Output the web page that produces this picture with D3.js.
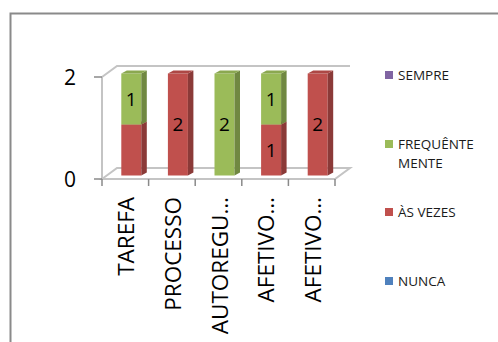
<!DOCTYPE html>
<html>
<head>
<meta charset="utf-8">
<script src="https://cdn.jsdelivr.net/npm/d3@7"></script>
<style>
  html, body { margin: 0; padding: 0; background: #fff; }
  svg { display: block; }
  text { font-family: "Open Sans", "DejaVu Sans", sans-serif; }
</style>
</head>
<body>
<svg id="chart" width="498" height="342"></svg>
<script>
// Categories and stacked series (bottom to top)
const categories = ["TAREFA", "PROCESSO", "AUTOREGU…", "AFETIVO…", "AFETIVO…"];
const seriesNames = ["NUNCA", "ÀS VEZES", "FREQUÊNTE MENTE", "SEMPRE"];
const nunca      = [0, 0, 0, 0, 0];
const asVezes    = [1, 2, 0, 1, 2];
const frequente  = [1, 0, 2, 1, 0];
const sempre     = [0, 0, 0, 0, 0];
// data labels shown per series (the first ÀS VEZES label is not displayed)
const asVezesLabelShown   = [false, true, true, true, true];
const frequenteLabelShown = [true, true, true, true, true];
const yTicks = [0, 2];

const colors = {
  "NUNCA": "#4F81BD",
  "ÀS VEZES": "#C0504D",
  "FREQUÊNTE MENTE": "#9BBB59",
  "SEMPRE": "#8064A2"
};
const labelShown = {
  "NUNCA": nunca.map(() => true),
  "ÀS VEZES": asVezesLabelShown,
  "FREQUÊNTE MENTE": frequenteLabelShown,
  "SEMPRE": sempre.map(() => true)
};

const svg = d3.select("#chart");

// outer frame
svg.append("path")
  .attr("d", "M10.5,342 L10.5,13.5 L498,13.5")
  .attr("fill", "none").attr("stroke", "#8a8a8a").attr("stroke-width", 2);

const x = d3.scaleBand().domain(d3.range(categories.length)).range([102, 335]).padding(0);
const y = d3.scaleLinear().domain([0, 2]).range([179, 77]);

// 3-D depth of the plot box
const depthX = 15, depthY = -11;
const grid = "#c4c4c4";

const g = svg.append("g");
// back wall top gridline (value 2) and left wall
g.append("path")
  .attr("d", `M${x.range()[0]},${y(2)} L${x.range()[0] + depthX},${y(2) + depthY} L${x.range()[1] + depthX},${y(2) + depthY}`)
  .attr("fill", "none").attr("stroke", grid).attr("stroke-width", 2);
g.append("line")
  .attr("x1", x.range()[0]).attr("x2", x.range()[0])
  .attr("y1", y(2)).attr("y2", y(0))
  .attr("stroke", grid).attr("stroke-width", 2);
// floor
g.append("path")
  .attr("d", `M${x.range()[0]},${y(0)} L${x.range()[0] + depthX},${y(0) + depthY} L${x.range()[1] + depthX},${y(0) + depthY} L${x.range()[1]},${y(0)} Z`)
  .attr("fill", "none").attr("stroke", grid).attr("stroke-width", 2);

// y axis ticks and labels
yTicks.forEach(t => {
  g.append("line").attr("x1", 94).attr("x2", x.range()[0]).attr("y1", y(t)).attr("y2", y(t))
    .attr("stroke", "#8a8a8a").attr("stroke-width", 1.5);
  g.append("text").attr("x", 70).attr("y", y(t)).attr("dy", "0.36em")
    .attr("text-anchor", "middle").attr("font-size", 21).attr("fill", "#000").text(t);
});

// x axis category ticks
const bounds = categories.map((c, i) => x(i)).concat([x.range()[1]]);
bounds.forEach(b => {
  g.append("line").attr("x1", b).attr("x2", b).attr("y1", y(0)).attr("y2", y(0) + 7)
    .attr("stroke", "#8a8a8a").attr("stroke-width", 1.5);
});

// rotated category labels
categories.forEach((c, i) => {
  const cx = x(i) + x.bandwidth() / 2 + 1;
  g.append("text")
    .attr("transform", `translate(${cx},197) rotate(-90)`)
    .attr("text-anchor", "end").attr("dy", "0.36em")
    .attr("font-size", 22.5).attr("fill", "#000").text(c);
});

// stacked 3-D bars
const rows = categories.map((c, i) => ({
  "NUNCA": nunca[i], "ÀS VEZES": asVezes[i], "FREQUÊNTE MENTE": frequente[i], "SEMPRE": sempre[i]
}));
const stack = d3.stack().keys(seriesNames)(rows);

const barW = 20, offX = 6, offY = -3.5, sideX = 5.5, sideY = -3;
stack.forEach(layer => {
  const key = layer.key;
  const base = d3.color(colors[key]);
  layer.forEach((d, i) => {
    const v = d[1] - d[0];
    if (v <= 0) return;
    const x0 = x(i) + x.bandwidth() / 2 + offX - barW / 2;
    const yTop = y(d[1]) + offY, yBot = y(d[0]) + offY;
    const bar = g.append("g");
    // front face
    bar.append("rect").attr("x", x0).attr("y", yTop).attr("width", barW).attr("height", yBot - yTop)
      .attr("fill", base.formatHex());
    // side face
    bar.append("path")
      .attr("d", `M${x0 + barW},${yTop} L${x0 + barW + sideX},${yTop + sideY} L${x0 + barW + sideX},${yBot + sideY} L${x0 + barW},${yBot} Z`)
      .attr("fill", base.darker(0.9).formatHex());
    // top face
    bar.append("path")
      .attr("d", `M${x0},${yTop} L${x0 + sideX},${yTop + sideY} L${x0 + barW + sideX},${yTop + sideY} L${x0 + barW},${yTop} Z`)
      .attr("fill", base.darker(0.3).formatHex());
    // value label
    if (labelShown[key][i]) {
      g.append("text").attr("x", x0 + barW / 2).attr("y", (yTop + yBot) / 2).attr("dy", "0.36em")
        .attr("text-anchor", "middle").attr("font-size", 19).attr("fill", "#000").text(v);
    }
  });
});

// legend (top to bottom: SEMPRE ... NUNCA)
const legendY = { "SEMPRE": 75, "FREQUÊNTE MENTE": 144, "ÀS VEZES": 212, "NUNCA": 281 };
const legend = svg.append("g");
seriesNames.slice().reverse().forEach(name => {
  const ly = legendY[name];
  legend.append("rect").attr("x", 385).attr("y", ly - 4).attr("width", 8).attr("height", 8)
    .attr("fill", colors[name]);
  const words = name === "FREQUÊNTE MENTE" ? ["FREQUÊNTE", "MENTE"] : [name];
  words.forEach((w, k) => {
    legend.append("text").attr("x", 398).attr("y", ly + k * 19).attr("dy", "0.36em")
      .attr("font-size", 13.5).attr("fill", "#1a1a1a").text(w);
  });
});
</script>
</body>
</html>
